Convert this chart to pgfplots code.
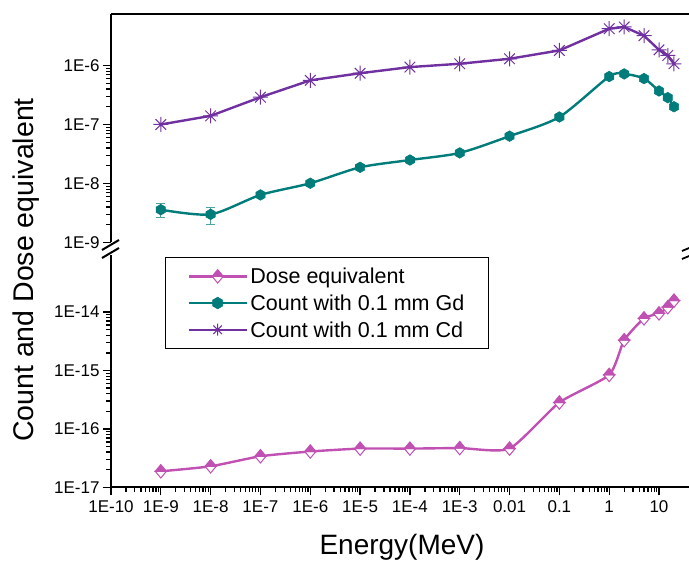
\documentclass[border=0pt]{standalone}
\usepackage{fontspec}
\setmainfont{Liberation Sans}
\usepackage{pgfplots}
\pgfplotsset{compat=1.18}

\definecolor{dosec}{RGB}{192,80,178}
\definecolor{gdc}{RGB}{0,124,122}
\definecolor{cdc}{RGB}{112,48,160}

% half filled diamond (top filled, bottom white)
\pgfdeclareplotmark{halfdiamond}{%
  \pgfpathmoveto{\pgfqpoint{-\pgfplotmarksize}{0pt}}%
  \pgfpathlineto{\pgfqpoint{0pt}{-1.2\pgfplotmarksize}}%
  \pgfpathlineto{\pgfqpoint{\pgfplotmarksize}{0pt}}%
  \pgfpathclose
  \pgfsetfillcolor{white}%
  \pgfusepathqfillstroke
  \pgfpathmoveto{\pgfqpoint{-\pgfplotmarksize}{0pt}}%
  \pgfpathlineto{\pgfqpoint{0pt}{1.2\pgfplotmarksize}}%
  \pgfpathlineto{\pgfqpoint{\pgfplotmarksize}{0pt}}%
  \pgfpathclose
  \pgfsetfillcolor{dosec}%
  \pgfusepathqfillstroke
}
\pgfdeclareplotmark{hexa}{%
  \pgfpathmoveto{\pgfqpointpolar{90}{\pgfplotmarksize}}%
  \pgfpathlineto{\pgfqpointpolar{150}{\pgfplotmarksize}}%
  \pgfpathlineto{\pgfqpointpolar{210}{\pgfplotmarksize}}%
  \pgfpathlineto{\pgfqpointpolar{270}{\pgfplotmarksize}}%
  \pgfpathlineto{\pgfqpointpolar{330}{\pgfplotmarksize}}%
  \pgfpathlineto{\pgfqpointpolar{30}{\pgfplotmarksize}}%
  \pgfpathclose
  \pgfusepathqfillstroke
}
\pgfdeclareplotmark{star8}{%
  \pgfpathmoveto{\pgfqpoint{-\pgfplotmarksize}{0pt}}\pgfpathlineto{\pgfqpoint{\pgfplotmarksize}{0pt}}%
  \pgfpathmoveto{\pgfqpoint{0pt}{-\pgfplotmarksize}}\pgfpathlineto{\pgfqpoint{0pt}{\pgfplotmarksize}}%
  \pgfpathmoveto{\pgfqpointpolar{45}{\pgfplotmarksize}}\pgfpathlineto{\pgfqpointpolar{225}{\pgfplotmarksize}}%
  \pgfpathmoveto{\pgfqpointpolar{135}{\pgfplotmarksize}}\pgfpathlineto{\pgfqpointpolar{315}{\pgfplotmarksize}}%
  \pgfusepathqstroke
}

\pgfplotsset{
  legend image code/.code={\draw[mark repeat=2, mark phase=2, #1] plot coordinates {(0pt,0pt) (29pt,0pt) (58pt,0pt)};},
}

\begin{document}
\begin{tikzpicture}[x=1pt,y=1pt]
\useasboundingbox (0,0) rectangle (689,561);

% lower panel: dose equivalent
\begin{axis}[
  xmode=log, ymode=log, scale only axis, width=578pt, height=232.6pt,
  at={(111pt,73.7pt)}, anchor=south west,
  xmin=1e-10, xmax=40, ymin=1e-17, ymax=9.6e-14,
  axis x line*=bottom, axis y line*=left,
  axis line style={line width=2.2pt},
  tick align=outside, major tick length=8pt, minor tick length=4.5pt,
  tick style={black, line width=1.3pt},
  ticklabel style={font=\fontsize{17}{20}\selectfont},
  xticklabel style={yshift=-2pt},
  xtick={1e-10,1e-9,1e-8,1e-7,1e-6,1e-5,1e-4,1e-3,1e-2,1e-1,1,10},
  xticklabels={1E-10,1E-9,1E-8,1E-7,1E-6,1E-5,1E-4,1E-3,0.01,0.1,1,10},
  ytick={1e-17,1e-16,1e-15,1e-14},
  yticklabels={1E-17,1E-16,1E-15,1E-14},
  legend style={at={(0.0935,0.99)}, anchor=north west, draw=black, line width=0.9pt,
    font=\fontsize{21.5}{24}\selectfont, inner xsep=22pt, inner ysep=5.5pt,
    nodes={inner xsep=2.5pt, inner ysep=2pt, text height=19pt, text depth=3.7pt}},
  legend cell align=left,
]
\addplot[dosec, line width=2.4pt, smooth, tension=0.35, mark=halfdiamond, mark size=5.6pt, mark options={line width=1pt}] coordinates {
(1e-9,1.88e-17)(1e-8,2.29e-17)(1e-7,3.4e-17)(1e-6,4.1e-17)(1e-5,4.6e-17)
(1e-4,4.6e-17)(1e-3,4.7e-17)(0.01,4.6e-17)(0.1,2.83e-16)(1,8.4e-16)
(2,3.3e-15)(5,7.8e-15)(10,9.5e-15)(15,1.21e-14)(20,1.57e-14)};
\addlegendentry{Dose equivalent}
\addlegendimage{gdc, line width=2.4pt, mark=hexa, mark size=5.8pt, mark options={line width=0.6pt}}
\addlegendentry{Count with 0.1 mm Gd}
\addlegendimage{cdc, line width=2.4pt, mark=star8, mark size=6pt, mark options={line width=1pt}}
\addlegendentry{Count with 0.1 mm Cd}
\end{axis}

% upper panel: counts
\begin{axis}[
  xmode=log, ymode=log, scale only axis, width=578pt, height=228.5pt,
  at={(111pt,318.5pt)}, anchor=south west,
  xmin=1e-10, xmax=40, ymin=1e-9, ymax=7.46e-6,
  axis x line*=top, axis y line*=left, xtick=\empty,
  axis line style={line width=2.2pt},
  tick align=outside, major tick length=8pt, minor tick length=4.5pt,
  tick style={black, line width=1.3pt},
  ticklabel style={font=\fontsize{17}{20}\selectfont},
  ytick={1e-9,1e-8,1e-7,1e-6},
  yticklabels={1E-9,1E-8,1E-7,1E-6},
]
\addplot[gdc, line width=2.4pt, smooth, tension=0.45, mark=hexa, mark size=5.3pt, mark options={line width=0.6pt},
  error bars/.cd, y dir=both, y explicit, error bar style={line width=0.9pt, gdc!70},
  error mark options={rotate=90, mark size=4.5pt, line width=0.9pt, gdc!70}] coordinates {
(1e-9,3.6e-9) +- (0,0.95e-9)
(1e-8,3.0e-9) +- (0,0.95e-9)
(1e-7,6.4e-9)(1e-6,1.01e-8)(1e-5,1.88e-8)(1e-4,2.5e-8)(1e-3,3.3e-8)
(0.01,6.35e-8)(0.1,1.34e-7)(1,6.5e-7)(2,7.2e-7)(5,6.0e-7)(10,3.7e-7)
(15,2.85e-7)(20,2.0e-7)};
\addplot[cdc, line width=2.4pt, mark=star8, mark size=7.5pt, mark options={line width=1pt}] coordinates {
(1e-9,1.0e-7)(1e-8,1.4e-7)(1e-7,2.9e-7)(1e-6,5.6e-7)(1e-5,7.4e-7)
(1e-4,9.4e-7)(1e-3,1.07e-6)(0.01,1.3e-6)(0.1,1.8e-6)(1,4.2e-6)
(2,4.5e-6)(5,3.2e-6)(10,1.84e-6)(15,1.48e-6)(20,1.07e-6)};
\end{axis}

% axis break marks
\draw[line width=2pt] (102,311) -- (119,321);
\draw[line width=2pt] (102,303) -- (119,313);
\draw[line width=1.8pt] (682,310) -- (694,315);
\draw[line width=1.8pt] (682,302) -- (694,307);

\node[rotate=90, font=\fontsize{28.5}{30}\selectfont] at (26,291) {Count and Dose equivalent};
\node[anchor=base, font=\fontsize{28}{30}\selectfont] at (402,6) {Energy(MeV)};
\end{tikzpicture}
\end{document}
